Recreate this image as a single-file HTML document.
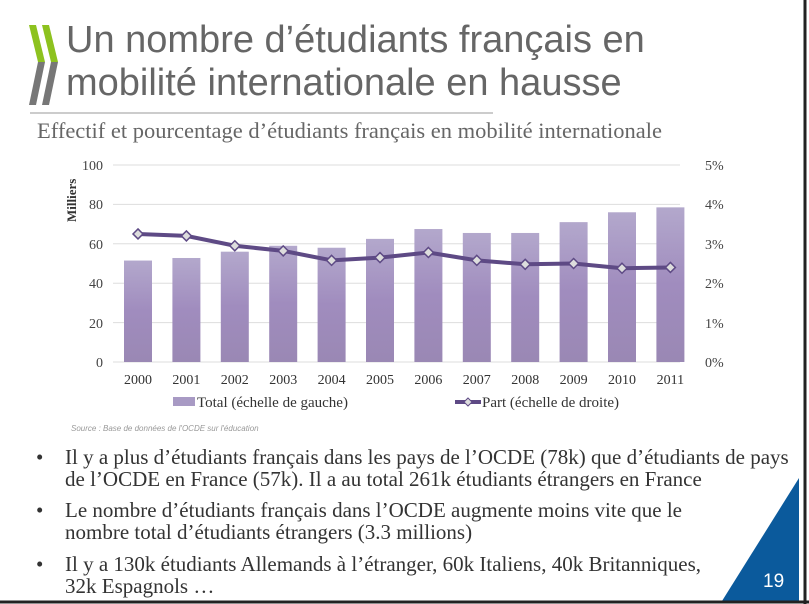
<!DOCTYPE html><html><head><meta charset="utf-8"><style>
body{margin:0;width:809px;height:604px;background:#fff;overflow:hidden;position:relative;font-family:"Liberation Sans",sans-serif}
.t{position:absolute;left:66px;font-size:38px;color:#666;line-height:43px;top:19px;white-space:nowrap}
.sub{position:absolute;left:37px;top:118px;font-family:"Liberation Serif",serif;font-size:22.5px;color:#666;white-space:nowrap}
.b{position:absolute;left:38px;font-family:"Liberation Serif",serif;font-size:21px;color:#333;line-height:22px;white-space:nowrap}
.b span{position:absolute;left:-2px}
.b div{margin-left:27px}
</style></head><body>
<svg width="809" height="604" style="position:absolute;left:0;top:0">
<polygon points="29,25 36,25 45,62 38,62" fill="#8dc21f"/><polygon points="38,62 45,62 36,105 29,105" fill="#777"/>
<polygon points="42,25 49,25 58,62 51,62" fill="#8dc21f"/><polygon points="51,62 58,62 49,105 42,105" fill="#777"/>
<line x1="30" y1="113" x2="493" y2="113" stroke="#bbb" stroke-width="1.5"/>
<defs><linearGradient id="g" x1="0" y1="0" x2="0" y2="1"><stop offset="0" stop-color="#b3a8cc"/><stop offset="0.5" stop-color="#a08cbe"/><stop offset="1" stop-color="#9a88b4"/></linearGradient></defs>
<g stroke="#ddd" stroke-width="1">
<line x1="113" y1="165" x2="680" y2="165"/><line x1="113" y1="204.4" x2="680" y2="204.4"/><line x1="113" y1="243.8" x2="680" y2="243.8"/><line x1="113" y1="283.2" x2="680" y2="283.2"/><line x1="113" y1="322.6" x2="680" y2="322.6"/><line x1="113" y1="362" x2="680" y2="362"/></g>
<g font-family="Liberation Serif,serif" font-size="14" fill="#444" text-anchor="end">
<text x="103" y="170">100</text><text x="103" y="209">80</text><text x="103" y="249">60</text><text x="103" y="288">40</text><text x="103" y="328">20</text><text x="103" y="367">0</text></g>
<g font-family="Liberation Serif,serif" font-size="14" fill="#444">
<text x="705" y="170">5%</text><text x="705" y="209">4%</text><text x="705" y="249">3%</text><text x="705" y="288">2%</text><text x="705" y="328">1%</text><text x="705" y="367">0%</text></g>
<text transform="translate(76,222) rotate(-90)" font-family="Liberation Serif,serif" font-size="13" font-weight="bold" fill="#333">Milliers</text>
<g fill="url(#g)" id="bars"></g>
<polyline id="ln" fill="none" stroke="#5e4a85" stroke-width="4"/>
<g id="mk"></g>
<g font-family="Liberation Serif,serif" font-size="14" fill="#333" text-anchor="middle" id="yr"></g>
<rect x="173" y="397" width="22" height="9" fill="#a89ac4"/>
<text x="197" y="407" font-family="Liberation Serif,serif" font-size="15" fill="#333">Total (échelle de gauche)</text>
<line x1="455" y1="402" x2="481" y2="402" stroke="#5e4a85" stroke-width="4"/><polygon points="468,398 472,402 468,406 464,402" fill="#ddd" stroke="#5e4a85"/>
<text x="482" y="407" font-family="Liberation Serif,serif" font-size="15" fill="#333">Part (échelle de droite)</text>
<text x="71" y="431" font-size="8" font-style="italic" fill="#999">Source :  Base de données de l'OCDE sur l'éducation</text>
<polygon points="722,601 799,478 799,601" fill="#0b5a9c"/>
<text x="763" y="587" font-size="19" fill="#fff">19</text>
<line x1="805" y1="0" x2="805" y2="604" stroke="#222" stroke-width="3"/>
<line x1="0" y1="602" x2="809" y2="602" stroke="#222" stroke-width="3"/>
</svg>
<div class="t">Un nombre d’étudiants français en<br>mobilité internationale en hausse</div>
<div class="sub">Effectif et pourcentage d’étudiants français en mobilité internationale</div>
<div class="b" style="top:446px"><span>•</span><div>Il y a plus d’étudiants français dans les pays de l’OCDE (78k) que d’étudiants de pays<br>de l’OCDE en France (57k). Il a au total 261k étudiants étrangers en France</div></div>
<div class="b" style="top:499px"><span>•</span><div>Le nombre d’étudiants français dans l’OCDE augmente moins vite que le<br>nombre total d’étudiants étrangers (3.3 millions)</div></div>
<div class="b" style="top:553px"><span>•</span><div>Il y a 130k étudiants Allemands à l’étranger, 60k Italiens, 40k Britanniques,<br>32k Espagnols …</div></div>
<script>
var v=[51.5,52.8,56,59,58,62.5,67.5,65.5,65.5,71,76,78.5],p=[3.25,3.2,2.95,2.82,2.58,2.65,2.78,2.58,2.48,2.5,2.38,2.4];
var ns="http://www.w3.org/2000/svg",b=document.getElementById('bars'),m=document.getElementById('mk'),y=document.getElementById('yr'),pts=[];
for(var i=0;i<12;i++){var cx=138+i*48.4;var r=document.createElementNS(ns,'rect');var h=v[i]*1.97;r.setAttribute('x',cx-14);r.setAttribute('y',362-h);r.setAttribute('width',28);r.setAttribute('height',h);b.appendChild(r);
var py=362-p[i]*39.4;pts.push(cx+','+py);var d=document.createElementNS(ns,'polygon');d.setAttribute('points',cx+','+(py-5)+' '+(cx+5)+','+py+' '+cx+','+(py+5)+' '+(cx-5)+','+py);d.setAttribute('fill','#ddd');d.setAttribute('stroke','#5e4a85');d.setAttribute('stroke-width','1.5');m.appendChild(d);
var t=document.createElementNS(ns,'text');t.setAttribute('x',cx);t.setAttribute('y',384);t.textContent=2000+i;y.appendChild(t);}
document.getElementById('ln').setAttribute('points',pts.join(' '));
</script>
</body></html>
